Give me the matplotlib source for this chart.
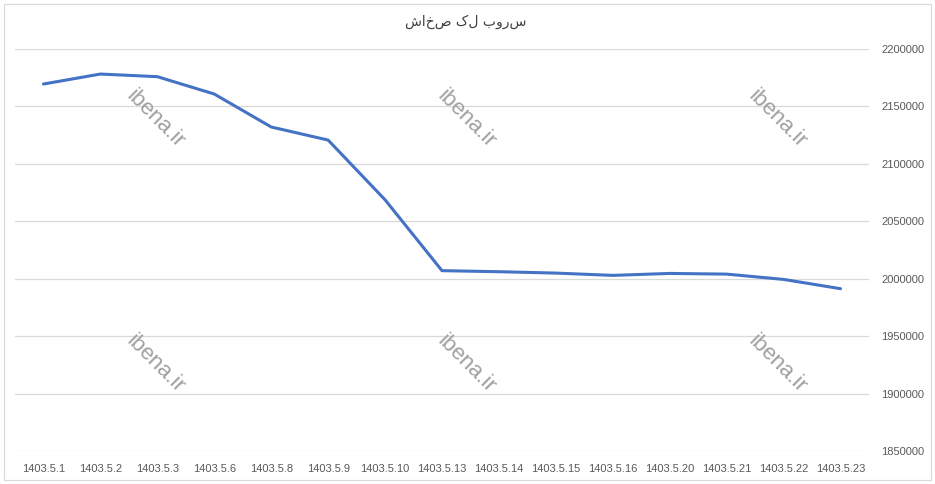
import matplotlib.pyplot as plt
from matplotlib.patches import Rectangle

dates = ['1403.5.1', '1403.5.2', '1403.5.3', '1403.5.6', '1403.5.8', '1403.5.9',
         '1403.5.10', '1403.5.13', '1403.5.14', '1403.5.15', '1403.5.16',
         '1403.5.20', '1403.5.21', '1403.5.22', '1403.5.23']
index_values = [2169500, 2178200, 2175900, 2160800, 2132100, 2120700, 2068700,
                2007000, 2006100, 2004900, 2002900, 2004600, 2004000, 1999400, 1991300]
y_ticks = [1850000, 1900000, 1950000, 2000000, 2050000, 2100000, 2150000, 2200000]
title = 'شاخص کل بورس'
watermark = 'ibena.ir'

plt.rcParams['font.family'] = ['Liberation Sans', 'DejaVu Sans']

fig = plt.figure(figsize=(9.35, 4.84), dpi=100)
ax = fig.add_axes([15 / 935, 1 - 451 / 484, 854 / 935, 402 / 484])

x = range(len(dates))
ax.plot(x, index_values, color='#4472C4', linewidth=2.2, solid_capstyle='round', zorder=3)

ax.set_xlim(-0.5, len(dates) - 0.5)
ax.set_ylim(y_ticks[0], y_ticks[-1])
ax.set_yticks(y_ticks)
ax.set_yticklabels([str(v) for v in y_ticks])
ax.set_xticks(list(x))
ax.set_xticklabels(dates)
ax.yaxis.tick_right()
ax.grid(axis='y', color='#d9d9d9', linewidth=0.9)
ax.tick_params(axis='both', length=0, labelsize=8, colors='#595959')
ax.tick_params(axis='y', pad=9)
ax.tick_params(axis='x', pad=9)
for s in ax.spines.values():
    s.set_visible(False)

fig.text(466 / 935, 1 - 22 / 484, title, ha='center', va='center', fontsize=10,
         color='#404040', family=['DejaVu Sans'])

for cx in [155, 466, 777]:
    for cy in [119, 364]:
        fig.text(cx / 935, 1 - cy / 484, watermark, ha='center', va='center',
                 rotation=-45, fontsize=16, color='#a0a0a0')

fig.patches.append(Rectangle((4 / 935, 4 / 484), 927 / 935, 476 / 484, transform=fig.transFigure,
                             fill=False, edgecolor='#d9d9d9', linewidth=0.8))

plt.savefig('out.png')
